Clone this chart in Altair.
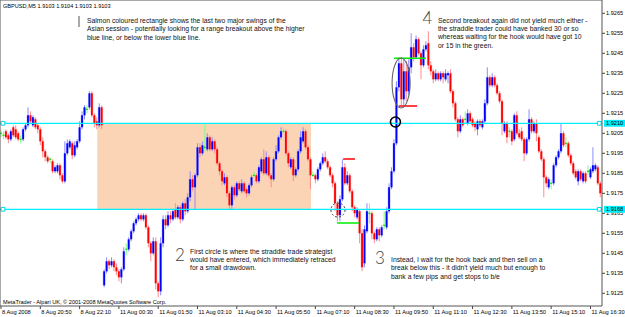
import altair as alt
import pandas as pd

BASE = 1.9100
PIP = 0.0001

# ---- M5 candles, values in pips above 1.9100 ----
bar_open = [
    105,104,106,104,102,108,107,105,102,102, 107,109,114,109,112,109,107,101,96,93,
    92,91,86,86,89,84,81,95,98,100, 94,98,101,108,114,117,118,125,114,111,
    109,118,29,36,41,39,41,38,36,33, 37,47,47,52,56,60,62,64,62,64,
    58,50,45,51,30,26,50,62,59,64, 62,67,63,68,62,70,66,73,82,78,
    84,98,95,98,97,103,97,101,97,90, 86,80,83,75,69,78,74,80,76,80,
    77,75,79,84,84,81,86,92,85,93, 84,82,92,96,103,106,106,95,88,92,
    84,87,96,101,106,98,92,84,84,82, 87,90,93,91,88,84,80,70,64,72,
    88,80,84,76,68,63,66,55,40,56, 65,65,55,52,57,54,59,58,66,78,
    86,100,128,140,122,136,126,138,148,143, 152,145,139,147,150,139,136,132,135,132,
    135,132,134,135,126,120,112,106,112,112, 110,115,112,110,107,111,108,111,120,133,
    129,133,129,125,121,106,110,106,106,102, 114,105,106,102,95,102,112,106,110,103,
    96,92,83,78,80,80,89,93,96,105, 100,100,94,90,86,81,86,81,85,86,
    83,86,87,88,80,
]
bar_high = [
    107,106,107,105,107,109,109,106,104,108, 110,118,116,114,113,110,108,103,97,94,
    93,92,89,90,90,85,101,102,102,101, 101,102,111,116,119,119,126,126,115,113,
    120,119,37,43,42,43,42,40,37,38, 48,50,53,57,61,63,65,65,65,65,
    59,51,53,53,31,53,64,64,66,66, 67,70,69,69,71,72,75,86,84,85,
    100,100,101,110,105,104,103,102,98,91, 87,85,84,76,79,79,81,81,82,81,
    78,80,84,86,85,89,93,97,96,94, 85,93,99,104,108,108,107,96,93,93,
    88,97,106,108,107,99,93,86,85,88, 91,95,96,92,89,85,81,71,74,92,
    90,86,85,77,69,68,67,57,59,70, 70,66,56,58,58,59,66,68,80,88,
    102,131,143,143,142,141,142,155,150,154, 153,146,149,151,156,141,137,137,136,136,
    136,137,136,137,127,121,113,114,113,116, 117,116,113,111,112,112,112,122,138,134,
    135,134,130,126,122,111,111,108,107,115, 116,107,108,103,103,117,113,111,112,104,
    97,93,84,83,82,90,94,97,110,106, 103,101,95,91,87,87,87,86,86,89,
    88,98,90,89,81,
]
bar_low = [
    103,102,102,100,101,103,102,101,100,101, 106,108,110,108,107,105,99,93,91,90,
    90,85,85,85,82,80,80,94,97,92, 93,97,100,107,112,115,117,113,108,107,
    108,107,28,35,37,38,36,34,31,30, 36,44,46,51,55,59,61,61,61,57,
    48,41,44,27,23,24,48,57,58,60, 61,62,62,60,61,64,65,71,76,67,
    83,93,94,96,96,96,96,95,89,84, 79,79,73,67,67,72,73,76,75,75,
    73,74,78,83,80,80,85,84,84,83, 78,81,91,95,102,105,94,88,87,81,
    83,86,95,100,97,91,77,83,80,81, 86,89,90,87,83,78,66,61,61,71,
    79,79,75,66,63,62,50,36,38,55, 60,52,50,51,51,53,57,57,65,77,
    85,99,126,119,119,121,124,135,141,142, 144,132,138,146,137,134,130,131,131,131,
    130,131,130,125,118,111,103,105,108,110, 109,110,108,106,104,108,107,110,119,128,
    128,128,124,120,104,105,100,103,99,101, 104,102,101,91,94,101,105,105,101,95,
    91,73,78,77,77,79,88,92,95,98, 98,93,89,84,82,79,81,80,80,84,
    82,85,86,79,73,
]
bar_close = [
    105,104,103,102,106,104,103,102,102,107, 109,114,111,113,108,107,101,96,93,91,
    92,86,88,89,84,81,95,100,101,94, 99,101,108,114,118,117,125,114,110,109,
    118,109,36,41,39,41,38,36,33,37, 46,47,52,56,60,62,64,62,64,58,
    50,45,51,30,26,50,62,59,64,62, 66,63,68,62,70,66,73,82,78,84,
    98,95,99,98,103,97,101,97,90,86, 81,83,75,69,78,74,80,77,80,76,
    75,79,83,84,81,88,92,85,93,84, 82,92,96,103,106,106,95,90,92,84,
    87,96,103,106,98,92,84,84,82,87, 90,93,91,88,84,80,70,64,72,88,
    80,84,76,68,65,67,55,38,57,66, 65,55,52,57,54,58,59,66,78,86,
    100,128,140,122,136,126,138,148,143,152, 145,139,147,149,139,136,132,135,132,135,
    133,135,135,126,120,112,106,112,109,112, 115,111,109,108,111,109,111,120,133,129,
    133,129,125,121,110,110,103,106,101,114, 105,103,102,95,102,112,106,110,105,96,
    92,83,80,82,80,89,93,96,105,99, 100,94,90,85,83,86,82,85,81,86,
    87,89,89,80,75,
]

time_labels = ["8 Aug 2008", "8 Aug 20:50", "8 Aug 22:10", "11 Aug 00:30", "11 Aug 01:50",
               "11 Aug 03:10", "11 Aug 04:30", "11 Aug 05:50", "11 Aug 07:10", "11 Aug 08:30",
               "11 Aug 09:50", "11 Aug 11:10", "11 Aug 12:30", "11 Aug 13:50", "11 Aug 15:10",
               "11 Aug 16:30"]
bars_per_label = 16
price_ticks = [1.9125, 1.9135, 1.9145, 1.9155, 1.9165, 1.9175, 1.9185, 1.9195,
               1.9205, 1.9215, 1.9225, 1.9235, 1.9245, 1.9255, 1.9265]

hlines = [1.9210, 1.9167]
hline_labels = ["1.9210", "1.9168"]
range_rect_bars = [39.2, 126.2]

header_text = "GBPUSD,M5  1.9103 1.9104 1.9103 1.9103"
footer_text = "MetaTrader - Alpari UK, \u00a9 2001-2008 MetaQuotes Software Corp."

note_salmon = ["Salmon coloured rectangle shows the last two major swings of the",
               "Asian session - potentially looking for a range breakout above the higher",
               "blue line, or below the lower blue line."]
note_second = ["Second breakout again did not yield much either -",
               "the straddle trader could have banked 30 or so",
               "whereas waiting for the hook would have got 10",
               "or 15 in the green."]
note_first = ["First circle is where the straddle trade strategist",
              "would have entered, which immediately retraced",
              "for a small drawdown."]
note_instead = ["Instead, I wait for the hook back and then sell on a",
                "break below this - it didn't yield much but enough to",
                "bank a few pips and get stops to b/e"]
# anchors: (bar index, pips of each line)
note_salmon_pos = (35.0, [161.3, 157.0, 152.7])
note_second_pos = (177.9, [161.3, 157.15, 153.0, 148.8])
note_first_pos = (76.95, [45.8, 41.65, 37.5])
note_instead_pos = (158.8, [41.65, 37.5, 33.3])
doodles = [("2", 72.9, 43.6), ("3", 154.3, 42.4), ("4", 173.6, 162.4)]

green_segments = [(160.0, 173.0, 142.5), (136.8, 145.8, 60.15)]
red_segments = [(162.0, 169.4, 118.65), (139.3, 144.1, 92.15)]
circle_breakout = (160.6, 110.65)
circle_first = (137.2, 66.65)
ellipse_hook = (162.9, 130.15)

# ---------------- scales ----------------
X_MIN, X_MAX = -0.4072, 244.70          # bar-index domain of the plot area (602 px)
Y_MIN, Y_MAX = 1.911865, 1.927165       # price domain of the plot area (306 px)
X_PER_PX = (X_MAX - X_MIN) / 602.0
Y_PER_PX = (Y_MAX - Y_MIN) / 306.0
xs = alt.Scale(domain=[X_MIN, X_MAX], nice=False, zero=False)
ys = alt.Scale(domain=[Y_MIN, Y_MAX], nice=False, zero=False)

def px(p):
    return BASE + p * PIP

def X(field):
    return alt.X(field, type="quantitative", scale=xs, axis=None)

def Y(field):
    return alt.Y(field, type="quantitative", scale=ys, axis=None)

rows = []
for i, (o, h, l, c) in enumerate(zip(bar_open, bar_high, bar_low, bar_close)):
    kind = "up" if c > o else ("down" if c < o else "flat")
    b0, b1 = min(o, c), max(o, c)
    if b0 == b1:
        b0, b1 = b0 - 0.3, b1 + 0.3
    rows.append({"i": i, "h": px(max(h, o, c)), "l": px(min(l, o, c)),
                 "b0": px(b0), "b1": px(b1), "kind": kind, "shade": kind + "_pale"})
candles = pd.DataFrame(rows)

kinds = ["up", "down", "flat"]
solid = alt.Scale(domain=kinds, range=["#0000ff", "#ff0000", "#00e000"])
pale = alt.Scale(domain=[k + "_pale" for k in kinds], range=["#8c8cff", "#ff8c8c", "#80ff80"])
FONT = "Liberation Sans"

rect_df = pd.DataFrame({"x0": [range_rect_bars[0]], "x1": [range_rect_bars[1]],
                        "y0": [hlines[1]], "y1": [hlines[0]]})
rect = alt.Chart(rect_df).mark_rect(color="#FAD4B4").encode(
    x=X("x0"), x2="x1", y=Y("y0"), y2="y1")

wicks = alt.Chart(candles).mark_rule(strokeWidth=1).encode(
    x=X("i"), y=Y("l"), y2="h",
    color=alt.Color("shade:N", scale=pale, legend=None))
halo = alt.Chart(candles).mark_rule(strokeWidth=3, opacity=0.45).encode(
    x=X("i"), y=Y("b0"), y2="b1",
    color=alt.Color("shade:N", scale=pale, legend=None))
bodies = alt.Chart(candles).mark_rule(strokeWidth=1.8).encode(
    x=X("i"), y=Y("b0"), y2="b1",
    stroke=alt.Stroke("kind:N", scale=solid, legend=None))

# ---- price axis (right) and time axis (bottom), positioned by the same scales ----
yt = pd.DataFrame({"p": price_ticks, "lab": ["%.4f" % v for v in price_ticks],
                   "a": X_MAX, "b": X_MAX + 3 * X_PER_PX, "t": X_MAX + 4 * X_PER_PX})
y_ticks = alt.Chart(yt).mark_rule(color="#444", strokeWidth=1).encode(
    x=X("a"), x2="b", y=Y("p"))
y_labels = alt.Chart(yt).mark_text(align="left", baseline="middle", font=FONT,
                                   fontSize=5.6, color="#000").encode(
    x=X("t"), y=Y("p"), text="lab:N")

xt = pd.DataFrame({"i": [k * bars_per_label for k in range(len(time_labels))],
                   "lab": time_labels})
xt["lx"] = xt["i"] + 1 * X_PER_PX
xt["top"] = Y_MIN
xt["bot"] = Y_MIN - 3 * Y_PER_PX
xt["ly"] = Y_MIN - 6.3 * Y_PER_PX
x_ticks = alt.Chart(xt).mark_rule(color="#444", strokeWidth=1).encode(
    x=X("i"), y=Y("top"), y2="bot")
x_labels = alt.Chart(xt).mark_text(align="left", baseline="middle", font=FONT,
                                   fontSize=5.7, color="#000").encode(
    x=X("lx"), y=Y("ly"), text="lab:N")

frame = alt.Chart(pd.DataFrame({"x0": [X_MIN], "x1": [X_MAX], "y0": [Y_MIN], "y1": [Y_MAX]})
                  ).mark_rect(filled=False, stroke="#555", strokeWidth=1, fillOpacity=0).encode(
    x=X("x0"), x2="x1", y=Y("y0"), y2="y1")

hl_df = pd.DataFrame({"p": hlines, "lab": hline_labels,
                      "lo": [v - 0.00017 for v in hlines], "hi": [v + 0.00017 for v in hlines],
                      "bx0": X_MAX + 2 * X_PER_PX, "bx1": X_MAX + 23 * X_PER_PX,
                      "tx": X_MAX + 4 * X_PER_PX})
cyan_lines = alt.Chart(hl_df).mark_rule(color="#00f0ff", strokeWidth=1.3).encode(y=Y("p"))
sq_df = pd.DataFrame({"i": [0.8, 243.6, 0.8, 243.6],
                      "p": [hlines[0], hlines[0], hlines[1], hlines[1]]})
squares = alt.Chart(sq_df).mark_point(shape="square", size=14, filled=True, fill="white",
                                      stroke="#00d8e8", strokeWidth=1, opacity=1).encode(
    x=X("i"), y=Y("p"))
lab_box = alt.Chart(hl_df).mark_rect(color="#00f0ff").encode(
    x=X("bx0"), x2="bx1", y=Y("lo"), y2="hi")
lab_txt = alt.Chart(hl_df).mark_text(align="left", baseline="middle", font=FONT,
                                     fontSize=5.6, color="#000").encode(
    x=X("tx"), y=Y("p"), text="lab:N")

g_df = pd.DataFrame([{"a": a, "b": b, "p": px(p)} for a, b, p in green_segments])
r_df = pd.DataFrame([{"a": a, "b": b, "p": px(p)} for a, b, p in red_segments])
g_segs = alt.Chart(g_df).mark_rule(strokeWidth=1.5, color="#00ee00").encode(
    x=X("a"), x2="b", y=Y("p"))
r_segs = alt.Chart(r_df).mark_rule(strokeWidth=1.5, color="#ff0000").encode(
    x=X("a"), x2="b", y=Y("p"))

c1 = alt.Chart(pd.DataFrame({"i": [circle_breakout[0]], "p": [px(circle_breakout[1])]})).mark_point(
    shape="circle", size=100, filled=False, color="#000", strokeWidth=1.6, opacity=1).encode(
    x=X("i"), y=Y("p"))
c2 = alt.Chart(pd.DataFrame({"i": [circle_first[0]], "p": [px(circle_first[1])]})).mark_point(
    shape="circle", size=200, filled=False, color="#444", strokeWidth=1, strokeDash=[2, 2],
    opacity=1).encode(x=X("i"), y=Y("p"))
ell_path = ("M -0.36 0 C -0.36 -0.5523 -0.1988 -1 0 -1 C 0.1988 -1 0.36 -0.5523 0.36 0 "
            "C 0.36 0.5523 0.1988 1 0 1 C -0.1988 1 -0.36 0.5523 -0.36 0 Z")
c3 = alt.Chart(pd.DataFrame({"i": [ellipse_hook[0]], "p": [px(ellipse_hook[1])]})).mark_point(
    shape=ell_path, size=2500, filled=False, color="#666", strokeWidth=1.1, opacity=1).encode(
    x=X("i"), y=Y("p"))

note_rows = []
for lines, (bx, ps) in [(note_salmon, note_salmon_pos), (note_second, note_second_pos),
                        (note_first, note_first_pos), (note_instead, note_instead_pos)]:
    for t, p in zip(lines, ps):
        note_rows.append({"i": bx, "p": px(p), "t": t})
notes = alt.Chart(pd.DataFrame(note_rows)).mark_text(
    align="left", baseline="middle", font=FONT, fontSize=6.8, color="#111").encode(
    x=X("i"), y=Y("p"), text="t:N")

chrome = pd.DataFrame({"i": [0.81, 0.81], "p": [px(168.65), px(20.8)],
                       "t": [header_text, footer_text]})
chrome_txt = alt.Chart(chrome).mark_text(
    align="left", baseline="middle", font=FONT, fontSize=5.6, color="#000").encode(
    x=X("i"), y=Y("p"), text="t:N")

dd = pd.DataFrame({"t": [d[0] for d in doodles], "i": [d[1] for d in doodles],
                   "p": [px(d[2]) for d in doodles]})
doodle_txt = alt.Chart(dd).mark_text(
    align="center", baseline="middle", font="Lato", fontWeight=300, fontSize=17,
    color="#444").encode(x=X("i"), y=Y("p"), text="t:N")

bar_note = alt.Chart(pd.DataFrame({"i": [31.76], "a": [px(163.65)], "b": [px(158.15)]})).mark_rule(
    color="#555", strokeWidth=1).encode(x=X("i"), y=Y("a"), y2="b")

chart = alt.layer(
    rect, wicks, halo, bodies, cyan_lines, squares, y_ticks, y_labels, x_ticks, x_labels,
    lab_box, lab_txt, g_segs, r_segs, c1, c2, c3, notes, chrome_txt, doodle_txt, bar_note,
    frame
).properties(
    width=602, height=306,
    padding={"left": 0, "top": 0, "right": 23, "bottom": 11},
    autosize=alt.AutoSizeParams(type="none"),
    background="white",
).configure_view(stroke=None)

chart.save("out.html", embed_options={"renderer": "svg", "actions": False})
